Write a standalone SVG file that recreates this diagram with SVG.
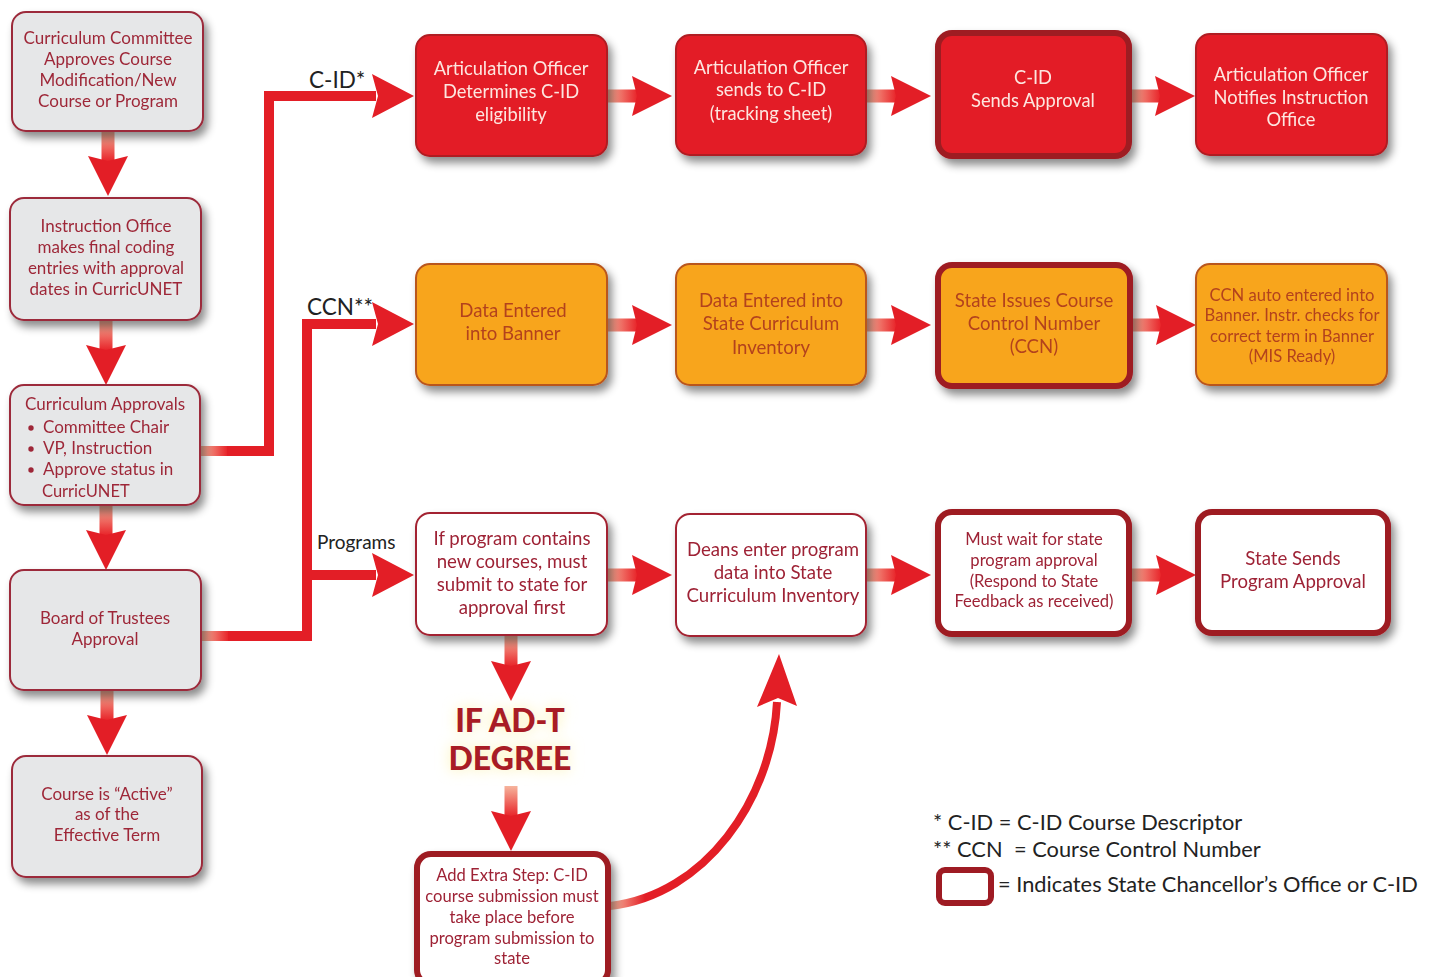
<svg xmlns="http://www.w3.org/2000/svg" xmlns:xlink="http://www.w3.org/1999/xlink" width="1437" height="977" viewBox="0 0 1437 977">
  <style>
    text { font-family: Lato, "Open Sans", "Liberation Sans", sans-serif; }
    .box { filter: url(#shadow); }
    .gray { fill: #e6e7e8; stroke: #9c2a3a; stroke-width: 2; }
    .red { fill: #e31e26; stroke: #b01b22; stroke-width: 2; }
    .orange { fill: #f8a51c; stroke: #b9561f; stroke-width: 2; }
    .white { fill: #ffffff; stroke: #a32431; stroke-width: 2; }
    .state { stroke: #9e1b23; stroke-width: 6; }
    .tg { fill: #9e2838; font-size: 17px; text-anchor: middle; }
    .tr { fill: #fde6e0; font-size: 18.3px; text-anchor: middle; }
    .to { fill: #b3421c; font-size: 18.6px; text-anchor: middle; }
    .tw { fill: #9e2235; font-size: 18.6px; text-anchor: middle; }
    .small { font-size: 16.6px; }
    .lbl { fill: #222222; font-size: 22.5px; }
    .legend { fill: #222222; font-size: 21.8px; }
    .link { fill: none; stroke: #e31e26; stroke-width: 10; stroke-linejoin: miter; }
  </style>
  <defs>
    <filter id="shadow" x="-10%" y="-10%" width="130%" height="140%">
      <feDropShadow dx="4" dy="6" stdDeviation="4" flood-color="#000000" flood-opacity="0.45"/>
    </filter>
    <filter id="glow" x="-30%" y="-60%" width="160%" height="220%">
      <feGaussianBlur stdDeviation="7"/>
    </filter>
    <linearGradient id="shaftH" x1="0" y1="0" x2="1" y2="0">
      <stop offset="0" stop-color="#f6b49c"/>
      <stop offset="1" stop-color="#e8262b"/>
    </linearGradient>
    <linearGradient id="curveGrad" gradientUnits="userSpaceOnUse" x1="612" y1="0" x2="645" y2="0">
      <stop offset="0" stop-color="#f6b49c"/>
      <stop offset="1" stop-color="#e31e26"/>
    </linearGradient>
    <!-- block arrow pointing right, 65px long, centred on y=0 -->
    <g id="arrowR">
      <rect x="0" y="-6.5" width="30" height="13" fill="url(#shaftH)"/>
      <path d="M25,-20 L65,0 L25,20 L30,0 Z" fill="#e31e26"/>
    </g>
  </defs>

  <rect width="1437" height="977" fill="#ffffff"/>

  <!-- connectors -->
  <g id="connectors">
    <!-- left column, downward -->
    <use href="#arrowR" transform="translate(108,131) rotate(90)"/>
    <use href="#arrowR" transform="translate(106,320) rotate(90)"/>
    <use href="#arrowR" transform="translate(106,505) rotate(90)"/>
    <use href="#arrowR" transform="translate(107,690) rotate(90)"/>

    <!-- branches out of the approvals and board boxes -->
    <polyline class="link" points="200,451 269,451 269,96 376,96"/>
    <rect x="201" y="446" width="26" height="10" fill="url(#shaftH)"/>
    <path d="M372,74 L414,96 L372,118 L378,96 Z" fill="#e31e26"/>

    <polyline class="link" points="201,636 307,636 307,324 376,324"/>
    <line class="link" x1="307" y1="575" x2="376" y2="575"/>
    <rect x="202" y="631" width="26" height="10" fill="url(#shaftH)"/>
    <path d="M372,302 L414,324 L372,346 L378,324 Z" fill="#e31e26"/>
    <path d="M372,553 L414,575 L372,597 L378,575 Z" fill="#e31e26"/>

    <!-- C-ID row -->
    <use href="#arrowR" transform="translate(607,96)"/>
    <use href="#arrowR" transform="translate(866,96)"/>
    <use href="#arrowR" transform="translate(1130,96)"/>

    <!-- CCN row -->
    <use href="#arrowR" transform="translate(607,325)"/>
    <use href="#arrowR" transform="translate(866,325)"/>
    <use href="#arrowR" transform="translate(1131,325)"/>

    <!-- programs row -->
    <use href="#arrowR" transform="translate(607,575)"/>
    <use href="#arrowR" transform="translate(866,575)"/>
    <use href="#arrowR" transform="translate(1131,575)"/>

    <!-- AD-T branch -->
    <use href="#arrowR" transform="translate(511,636) rotate(90)"/>
    <use href="#arrowR" transform="translate(511,786) rotate(90)"/>

    <path d="M610,906 C705,895 772,800 777,702" fill="none" stroke="url(#curveGrad)" stroke-width="8"/>
    <path d="M779,654 L797,706 L778,698 L757,707 Z" fill="#e31e26"/>
  </g>

  <!-- left column -->
  <g id="committee" class="box">
    <rect class="gray" x="12" y="12" width="191" height="119" rx="14"/>
    <text class="tg" x="108" y="44">Curriculum Committee</text>
    <text class="tg" x="108" y="65">Approves Course</text>
    <text class="tg" x="108" y="86">Modification/New</text>
    <text class="tg" x="108" y="107">Course or Program</text>
  </g>
  <g id="instruction-office" class="box">
    <rect class="gray" x="10" y="198" width="191" height="122" rx="14"/>
    <text class="tg" x="106" y="232">Instruction Office</text>
    <text class="tg" x="106" y="253">makes final coding</text>
    <text class="tg" x="106" y="274">entries with approval</text>
    <text class="tg" x="106" y="295">dates in CurricUNET</text>
  </g>
  <g id="approvals" class="box">
    <rect class="gray" x="10" y="385" width="190" height="120" rx="14"/>
    <text class="tg" x="25" y="410" style="text-anchor:start">Curriculum Approvals</text>
    <circle cx="31" cy="428" r="2.7" fill="#9e2838"/>
    <circle cx="31" cy="449" r="2.7" fill="#9e2838"/>
    <circle cx="31" cy="470" r="2.7" fill="#9e2838"/>
    <text class="tg" x="43" y="433" style="text-anchor:start">Committee Chair</text>
    <text class="tg" x="43" y="454" style="text-anchor:start">VP, Instruction</text>
    <text class="tg" x="43" y="475" style="text-anchor:start">Approve status in</text>
    <text class="tg" x="42" y="497" style="text-anchor:start; font-size:16.5px">CurricUNET</text>
  </g>
  <g id="board" class="box">
    <rect class="gray" x="10" y="570" width="191" height="120" rx="14"/>
    <text class="tg" x="105" y="624">Board of Trustees</text>
    <text class="tg" x="105" y="645">Approval</text>
  </g>
  <g id="active" class="box">
    <rect class="gray" x="12" y="756" width="190" height="121" rx="14"/>
    <text class="tg" x="107" y="800">Course is “Active”</text>
    <text class="tg" x="107" y="820">as of the</text>
    <text class="tg" x="107" y="841">Effective Term</text>
  </g>

  <!-- branch labels -->
  <text class="lbl" x="309" y="88">C-ID*</text>
  <text class="lbl" x="307" y="315">CCN**</text>
  <text class="lbl" x="317" y="549" style="font-size:19px">Programs</text>

  <!-- C-ID row -->
  <g id="cid-eligibility" class="box">
    <rect class="red" x="416" y="35" width="191" height="121" rx="14"/>
    <text class="tr" x="511" y="75">Articulation Officer</text>
    <text class="tr" x="511" y="98">Determines C-ID</text>
    <text class="tr" x="511" y="121">eligibility</text>
  </g>
  <g id="cid-send" class="box">
    <rect class="red" x="676" y="35" width="190" height="120" rx="14"/>
    <text class="tr" x="771" y="74">Articulation Officer</text>
    <text class="tr" x="771" y="96">sends to C-ID</text>
    <text class="tr" x="771" y="120">(tracking sheet)</text>
  </g>
  <g id="cid-approval" class="box">
    <rect class="red state" x="938" y="33" width="191" height="123" rx="14"/>
    <text class="tr" x="1033" y="84">C-ID</text>
    <text class="tr" x="1033" y="107">Sends Approval</text>
  </g>
  <g id="cid-notify" class="box">
    <rect class="red" x="1196" y="34" width="191" height="121" rx="14"/>
    <text class="tr" x="1291" y="81">Articulation Officer</text>
    <text class="tr" x="1291" y="104">Notifies Instruction</text>
    <text class="tr" x="1291" y="126">Office</text>
  </g>

  <!-- CCN row -->
  <g id="banner" class="box">
    <rect class="orange" x="416" y="264" width="191" height="121" rx="14"/>
    <text class="to" x="513" y="317">Data Entered</text>
    <text class="to" x="513" y="340">into Banner</text>
  </g>
  <g id="inventory" class="box">
    <rect class="orange" x="676" y="264" width="190" height="121" rx="14"/>
    <text class="to" x="771" y="307">Data Entered into</text>
    <text class="to" x="771" y="330">State Curriculum</text>
    <text class="to" x="771" y="354">Inventory</text>
  </g>
  <g id="ccn-issue" class="box">
    <rect class="orange state" x="938" y="265" width="192" height="121" rx="14"/>
    <text class="to" x="1034" y="307">State Issues Course</text>
    <text class="to" x="1034" y="330">Control Number</text>
    <text class="to" x="1034" y="353">(CCN)</text>
  </g>
  <g id="ccn-auto" class="box">
    <rect class="orange" x="1196" y="264" width="191" height="121" rx="14"/>
    <text class="to small" x="1292" y="301">CCN auto entered into</text>
    <text class="to small" x="1292" y="321">Banner. Instr. checks for</text>
    <text class="to small" x="1292" y="342">correct term in Banner</text>
    <text class="to small" x="1292" y="362">(MIS Ready)</text>
  </g>

  <!-- programs row -->
  <g id="new-courses" class="box">
    <rect class="white" x="416" y="513" width="191" height="122" rx="14"/>
    <text class="tw" x="512" y="545">If program contains</text>
    <text class="tw" x="512" y="568">new courses, must</text>
    <text class="tw" x="512" y="591">submit to state for</text>
    <text class="tw" x="512" y="614">approval first</text>
  </g>
  <g id="deans" class="box">
    <rect class="white" x="676" y="514" width="190" height="122" rx="14"/>
    <text class="tw" x="773" y="556">Deans enter program</text>
    <text class="tw" x="773" y="579">data into State</text>
    <text class="tw" x="773" y="602">Curriculum Inventory</text>
  </g>
  <g id="wait" class="box">
    <rect class="white state" x="938" y="512" width="191" height="122" rx="14"/>
    <text class="tw small" x="1034" y="545">Must wait for state</text>
    <text class="tw small" x="1034" y="566">program approval</text>
    <text class="tw small" x="1034" y="587">(Respond to State</text>
    <text class="tw small" x="1034" y="607">Feedback as received)</text>
  </g>
  <g id="state-sends" class="box">
    <rect class="white state" x="1198" y="512" width="190" height="121" rx="14"/>
    <text class="tw" x="1293" y="565">State Sends</text>
    <text class="tw" x="1293" y="588">Program Approval</text>
  </g>

  <!-- AD-T degree step -->
  <g id="adt-label">
    <g filter="url(#glow)" fill="#fbf1a6" font-weight="900" font-size="32" text-anchor="middle">
      <text x="510" y="732">IF AD-T</text>
      <text x="510" y="770">DEGREE</text>
    </g>
    <g fill="#a81c25" font-weight="900" font-size="32" text-anchor="middle">
      <text x="510" y="732">IF AD-T</text>
      <text x="510" y="770">DEGREE</text>
    </g>
  </g>
  <g id="extra-step" class="box">
    <rect class="white state" x="417" y="854" width="191" height="130" rx="14"/>
    <text class="tw small" x="512" y="881">Add Extra Step: C-ID</text>
    <text class="tw small" x="512" y="902">course submission must</text>
    <text class="tw small" x="512" y="923">take place before</text>
    <text class="tw small" x="512" y="944">program submission to</text>
    <text class="tw small" x="512" y="964">state</text>
  </g>

  <!-- legend -->
  <g id="legend">
    <text class="legend" x="933" y="830">* C-ID = C-ID Course Descriptor</text>
    <text class="legend" x="933" y="857">** CCN</text>
    <text class="legend" x="1014" y="857">= Course Control Number</text>
    <rect x="939" y="870" width="52" height="33" rx="6" fill="#ffffff" stroke="#9e1b23" stroke-width="6"/>
    <text class="legend" x="998" y="892">= Indicates State Chancellor’s Office or C-ID</text>
  </g>
</svg>
